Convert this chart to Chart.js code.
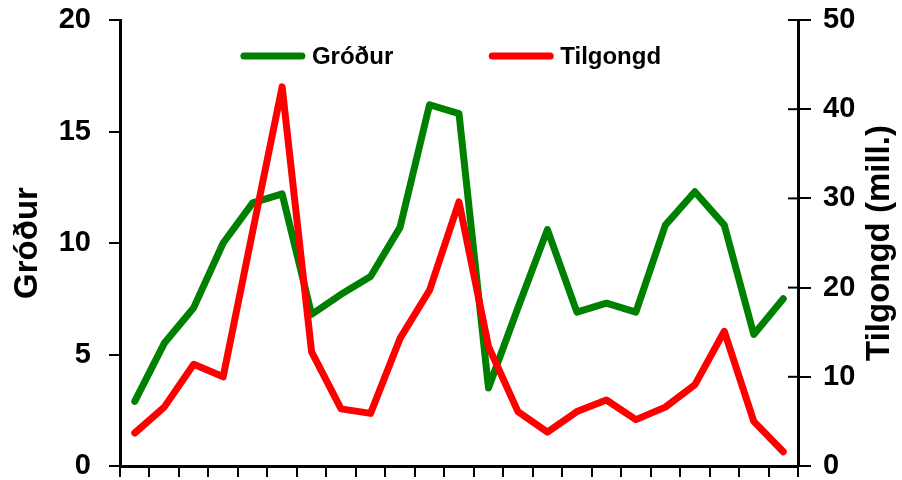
<!DOCTYPE html>
<html>
<head>
<meta charset="utf-8">
<script src="https://cdn.jsdelivr.net/npm/chart.js@4.4.1/dist/chart.umd.min.js"></script>
<style>
  html, body { margin: 0; padding: 0; background: #fff; }
  #wrap { width: 902px; height: 480px; }
</style>
</head>
<body>
<div id="wrap"><canvas id="chart" width="902" height="480"></canvas></div>
<script>
// Data
const categories = ['1', '2', '3', '4', '5', '6', '7', '8', '9', '10', '11', '12',
                    '13', '14', '15', '16', '17', '18', '19', '20', '21', '22', '23'];
const grodur = [2.9, 5.5, 7.1, 10.0, 11.8, 12.2, 6.8, 7.7, 8.5, 10.7, 16.2, 15.8,
                3.5, 7.1, 10.6, 6.9, 7.3, 6.9, 10.8, 12.3, 10.8, 5.9, 7.5];
const tilgongd = [3.7, 6.6, 11.4, 10.0, 26.3, 42.5, 12.8, 6.4, 5.9, 14.3, 19.7, 29.6,
                  13.4, 6.1, 3.8, 6.1, 7.4, 5.2, 6.6, 9.1, 15.1, 5.0, 1.6];

// Axis ranges
const leftAxis = { min: 0, max: 20, step: 5, title: 'Gróður' };
const rightAxis = { min: 0, max: 50, step: 10, title: 'Tilgongd (mill.)' };

const GREEN = '#008000';
const RED = '#ff0000';
const FONT = '"Liberation Sans", Arial, sans-serif';

// Extra drawing: inner half of right ticks, right title (bottom to top), legend inside plot
const extras = {
    id: 'extras',
    afterDraw(chart) {
        const { ctx, chartArea } = chart;
        const y2 = chart.scales.y2;
        ctx.save();

        ctx.strokeStyle = '#000';
        ctx.lineWidth = 2;
        y2.ticks.forEach(t => {
            const py = y2.getPixelForValue(t.value);
            ctx.beginPath();
            ctx.moveTo(chartArea.right - 10, py);
            ctx.lineTo(chartArea.right, py);
            ctx.stroke();
        });

        ctx.save();
        ctx.font = 'bold 33px ' + FONT;
        ctx.fillStyle = '#000';
        ctx.textAlign = 'center';
        ctx.textBaseline = 'middle';
        ctx.translate(880, (chartArea.top + chartArea.bottom) / 2);
        ctx.rotate(-Math.PI / 2);
        ctx.fillText(rightAxis.title, 0, 0);
        ctx.restore();

        // legend
        const items = chart.data.datasets.map(ds => ({ text: ds.label, color: ds.borderColor }));
        ctx.font = 'bold 24px ' + FONT;
        const lineLen = 64, gap = 7, spacing = 96;
        let total = spacing * (items.length - 1);
        items.forEach(it => { total += lineLen + gap + ctx.measureText(it.text).width; });
        let x = (chartArea.left + chartArea.right) / 2 - 8 - total / 2;
        const y = chartArea.top + 36;
        ctx.lineCap = 'round';
        ctx.lineWidth = 7;
        ctx.textAlign = 'left';
        ctx.textBaseline = 'middle';
        items.forEach(it => {
            ctx.strokeStyle = it.color;
            ctx.beginPath();
            ctx.moveTo(x + 3, y);
            ctx.lineTo(x + lineLen - 3, y);
            ctx.stroke();
            x += lineLen + gap;
            ctx.fillStyle = '#000';
            ctx.fillText(it.text, x, y + 1);
            x += ctx.measureText(it.text).width + spacing;
        });

        ctx.restore();
    }
};

const noPad = s => { s.paddingTop = 0; s.paddingBottom = 0; s.paddingLeft = 0; s.paddingRight = 0; };

const ctx = document.getElementById('chart').getContext('2d');
const chart = new Chart(ctx, {
    type: 'line',
    data: {
        labels: categories,
        datasets: [
            {
                label: 'Gróður',
                data: grodur,
                yAxisID: 'y',
                borderColor: GREEN,
                backgroundColor: GREEN,
                borderWidth: 7,
                pointRadius: 0,
                tension: 0,
                borderJoinStyle: 'round',
                borderCapStyle: 'round',
                order: 1
            },
            {
                label: 'Tilgongd',
                data: tilgongd,
                yAxisID: 'y2',
                borderColor: RED,
                backgroundColor: RED,
                borderWidth: 7,
                pointRadius: 0,
                tension: 0,
                borderJoinStyle: 'round',
                borderCapStyle: 'round',
                order: 0
            }
        ]
    },
    options: {
        responsive: false,
        animation: false,
        layout: { padding: { top: 20, left: 0, right: 0, bottom: 0 } },
        plugins: {
            legend: { display: false },
            tooltip: { enabled: false }
        },
        scales: {
            x: {
                type: 'category',
                offset: true,
                grid: { offset: true, drawOnChartArea: false, drawTicks: true, tickLength: 11, color: '#000', lineWidth: 2 },
                border: { color: '#000', width: 3 },
                ticks: { display: false },
                afterFit: s => { s.height = 14; noPad(s); }
            },
            y: {
                position: 'left',
                min: leftAxis.min,
                max: leftAxis.max,
                grid: { drawOnChartArea: false, drawTicks: true, tickLength: 11, color: '#000', lineWidth: 2 },
                border: { color: '#000', width: 3 },
                ticks: { stepSize: leftAxis.step, color: '#000', padding: 18, font: { family: FONT, size: 29, weight: 'bold' } },
                title: { display: true, text: leftAxis.title, color: '#000', padding: { top: 8, bottom: 0 }, font: { family: FONT, size: 33, weight: 'bold' } },
                afterFit: s => { s.width = 120; noPad(s); }
            },
            y2: {
                position: 'right',
                min: rightAxis.min,
                max: rightAxis.max,
                grid: { drawOnChartArea: false, drawTicks: true, tickLength: 13, color: '#000', lineWidth: 2 },
                border: { color: '#000', width: 3 },
                ticks: { stepSize: rightAxis.step, color: '#000', padding: 12, font: { family: FONT, size: 29, weight: 'bold' } },
                afterFit: s => { s.width = 104; noPad(s); }
            }
        }
    },
    plugins: [extras]
});
</script>
</body>
</html>
